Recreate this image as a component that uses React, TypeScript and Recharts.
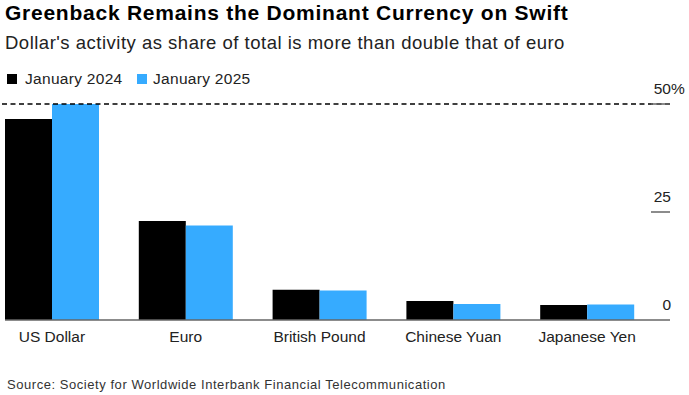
import React from "react";
import { Bar, BarChart, ReferenceLine, XAxis, YAxis } from "recharts";

const categories = ["US Dollar", "Euro", "British Pound", "Chinese Yuan", "Japanese Yen"];
const jan2024 = [46.5, 22.9, 7.0, 4.4, 3.5];
const jan2025 = [50.0, 21.9, 6.8, 3.7, 3.6];
const yTicks = [0, 25, 50];

const data = categories.map((name, i) => ({ name, jan2024: jan2024[i], jan2025: jan2025[i] }));

const FONT = '"Liberation Sans", Arial, Helvetica, sans-serif';
const BLUE = "#36abff";

function XTick(props: any) {
  const { x, y, payload } = props;
  return (
    <text x={x} y={y + 14} textAnchor="middle" fontSize={15.5} fill="#222" fontFamily={FONT}>
      {payload.value}
    </text>
  );
}

function YTick(props: any) {
  const { x, y, payload } = props;
  const v = payload.value;
  return (
    <g>
      {v !== 0 && <line x1={x - 19} x2={x} y1={y} y2={y} stroke="#666" strokeWidth={1.5} />}
      <text x={x + 1} y={y - 10} textAnchor="end" fontSize={15.5} fill="#222" fontFamily={FONT}>
        {v}
      </text>
      {v === 50 && (
        <text x={x + 1} y={y - 10} textAnchor="start" fontSize={15.5} fill="#222" fontFamily={FONT}>
          %
        </text>
      )}
    </g>
  );
}

// dashed 50% line stops short of the right-hand tick area
function DashedTop(props: any) {
  const { x1, y1, x2, y2 } = props;
  return <line x1={x1} y1={y1} x2={x2 - 36} y2={y2} stroke="#000" strokeWidth={1.5} strokeDasharray="5 3.5" />;
}

export default function App() {
  return (
    <div style={{ position: "absolute", left: 0, top: 0, width: 689, height: 395, background: "#fff", fontFamily: FONT }}>
      <div style={{ position: "absolute", left: 5, top: 1, fontSize: 21, fontWeight: 700, letterSpacing: 0.75, color: "#000", whiteSpace: "nowrap", lineHeight: "normal" }}>
        Greenback Remains the Dominant Currency on Swift
      </div>
      <div style={{ position: "absolute", left: 5, top: 31.5, fontSize: 18.5, letterSpacing: 0.5, color: "#222", whiteSpace: "nowrap", lineHeight: "normal" }}>
        Dollar's activity as share of total is more than double that of euro
      </div>
      <span style={{ position: "absolute", left: 7, top: 74, width: 10, height: 10, background: "#000" }} />
      <span style={{ position: "absolute", left: 25, top: 70, fontSize: 15.5, letterSpacing: 0.3, color: "#222", whiteSpace: "nowrap", lineHeight: "normal" }}>
        January 2024
      </span>
      <span style={{ position: "absolute", left: 137, top: 74, width: 10, height: 10, background: BLUE }} />
      <span style={{ position: "absolute", left: 153, top: 70, fontSize: 15.5, letterSpacing: 0.3, color: "#222", whiteSpace: "nowrap", lineHeight: "normal" }}>
        January 2025
      </span>
      <div style={{ position: "absolute", left: 7, top: 377, fontSize: 13, letterSpacing: 0.55, color: "#333", whiteSpace: "nowrap", lineHeight: "normal" }}>
        Source: Society for Worldwide Interbank Financial Telecommunication
      </div>
      <div style={{ position: "absolute", left: 0, top: 0 }}>
        <BarChart width={689} height={395} data={data} margin={{ top: 104, right: 0, bottom: 45, left: 5 }} barGap={0} barSize={47}>
          <XAxis
            dataKey="name"
            tickLine={false}
            axisLine={{ stroke: "#666", strokeWidth: 1.5 }}
            tick={<XTick />}
            height={30}
            padding={{ left: -20, right: 16 }}
            interval={0}
          />
          <YAxis
            orientation="right"
            domain={[0, 50]}
            ticks={yTicks}
            axisLine={false}
            tickLine={false}
            tickSize={0}
            tickMargin={0}
            width={19}
            tick={<YTick />}
            interval={0}
          />
          <ReferenceLine y={50} shape={<DashedTop />} />
          <Bar dataKey="jan2024" fill="#000" isAnimationActive={false} />
          <Bar dataKey="jan2025" fill={BLUE} isAnimationActive={false} />
        </BarChart>
      </div>
    </div>
  );
}
